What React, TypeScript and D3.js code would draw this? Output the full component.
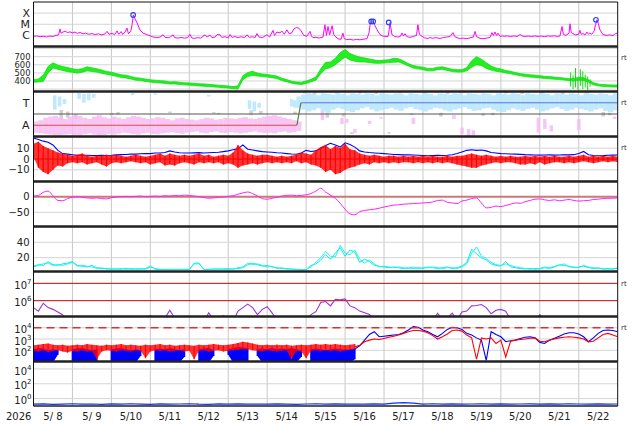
import * as d3 from 'd3';

// time axis: hours since 2026-05-08 00:00 UT, 15 days shown
const days = ['5/ 8', '5/ 9', '5/10', '5/11', '5/12', '5/13', '5/14', '5/15', '5/16', '5/17', '5/18', '5/19', '5/20', '5/21', '5/22'];

// X-ray flux, [hour, log10 W/m2]
const xray: [number, number][] = [
  [0,-6.1],[2,-6.05],[4,-6.12],[6,-6.08],[8,-6.14],[10,-6.06],[12,-6.1],[14,-6.0],[15.5,-5.95],[16.3,-5.43],[17,-5.8],[18.2,-5.7],[19.5,-5.62],[21,-5.75],[22.5,-5.68],[24,-5.78],[25.5,-5.7],[27,-5.82],[28.7,-5.74],[30.5,-5.86],[32,-5.8],[34,-5.9],[36,-5.84],[38,-5.93],[40,-5.86],[42,-5.95],[44,-5.88],[45.3,-5.64],[46.5,-5.9],[48.4,-5.82],[50,-5.93],[51.5,-5.6],[52.5,-5.9],[54,-5.66],[55,-5.92],[56.4,-5.7],[57.6,-5.34],[58.5,-5.85],[60,-5.6],[60.8,-5.0],[61.5,-4.16],[62.5,-4.5],[63.8,-4.87],[65.6,-5.5],[67.5,-5.8],[69.9,-5.93],[72,-6.05],[73.6,-6.14],[76,-6.2],[78,-6.15],[79.8,-5.94],[81,-6.18],[83,-6.22],[84.5,-6.12],[86,-5.95],[87,-6.2],[89,-6.25],[91,-6.18],[93,-6.25],[95,-6.2],[96.4,-5.9],[97.5,-6.22],[99,-6.28],[101,-6.2],[103,-6.25],[105.7,-5.95],[107,-6.15],[108.8,-5.98],[110,-6.2],[112,-6.15],[113.1,-5.92],[114.9,-5.95],[116,-6.18],[118,-6.12],[120,-6.22],[121.1,-5.92],[122.5,-6.18],[124,-6.1],[126,-6.2],[128,-6.12],[130,-6.2],[131.6,-5.95],[133,-6.18],[135,-6.12],[136.5,-6.2],[137.7,-5.84],[139,-6.15],[141,-6.2],[143.9,-5.95],[145.5,-6.15],[147.6,-5.55],[148.5,-6.0],[150,-5.7],[151.9,-5.78],[153,-5.6],[154.5,-5.9],[156.2,-5.5],[157.5,-5.85],[159,-5.8],[160.5,-5.4],[162,-5.3],[163.5,-5.35],[165,-5.6],[166.5,-6.0],[168.5,-6.08],[170.4,-5.64],[171.3,-6.05],[172.2,-6.2],[174,-6.18],[176,-6.24],[178.4,-6.15],[179.6,-5.04],[180.5,-6.0],[181.5,-5.2],[182.5,-5.95],[184,-5.13],[185,-5.9],[185.8,-6.08],[187.6,-6.3],[189.5,-6.36],[190.7,-5.8],[191.5,-6.3],[193,-6.38],[195,-6.35],[197,-6.42],[199,-6.36],[201.2,-6.4],[203,-6.35],[205.5,-6.3],[206.7,-5.8],[207.5,-5.0],[208.2,-4.75],[208.9,-4.76],[209.6,-4.9],[211.7,-5.49],[213.5,-5.93],[215.5,-6.08],[218.5,-6.1],[219.2,-5.5],[219.7,-4.84],[220.9,-5.93],[222.5,-6.1],[224.5,-6.15],[226,-6.1],[227.1,-5.78],[228,-6.05],[228.9,-5.85],[230,-6.1],[232,-6.18],[233.9,-6.1],[236,-6.0],[236.9,-5.04],[237.8,-5.9],[239.4,-6.08],[241,-6.22],[243,-6.28],[244.3,-6.2],[246,-6.26],[248,-6.2],[250.5,-6.28],[252.5,-6.2],[254.5,-6.15],[256.7,-6.1],[258.5,-5.75],[259.5,-6.1],[261,-6.22],[263,-6.28],[265,-6.25],[267,-6.3],[269,-6.22],[271,-6.15],[272.1,-5.64],[273,-6.1],[275.2,-6.28],[277,-6.3],[279,-6.25],[281.3,-6.2],[282.5,-5.75],[283.4,-6.0],[284.4,-5.7],[285.3,-6.0],[286.2,-5.8],[287.5,-6.1],[289,-6.05],[290.5,-6.08],[292,-6.05],[294,-6.1],[296,-6.05],[298,-6.1],[299.8,-5.93],[301,-6.05],[303,-6.1],[305,-6.06],[307,-6.1],[309,-6.05],[311,-6.1],[313,-6.06],[315,-6.12],[317,-6.05],[319,-6.08],[321,-6.04],[323,-6.1],[324.4,-6.05],[325.7,-5.2],[326.5,-5.9],[328.1,-6.0],[330,-5.8],[330.6,-4.96],[331.4,-5.75],[332.4,-5.84],[334,-5.95],[336,-5.9],[336.7,-5.55],[337.5,-5.9],[338.6,-5.84],[340,-5.95],[341,-5.7],[342,-5.9],[342.9,-5.78],[344,-5.9],[345.5,-5.6],[346.4,-5.0],[347.2,-4.6],[348,-4.9],[349,-5.49],[350.9,-5.93],[353.4,-6.0],[355,-5.95],[357.1,-6.02],[358.5,-5.85],[360,-5.78],
];
const flareMarks: [number, number][] = [[61.4,-4.16],[208.1,-4.75],[209.3,-4.75],[218.9,-4.84],[346.6,-4.6]];

// solar wind speed km/s, 3-hourly min / max
const speedLo = [385,388,395,500,560,545,530,515,508,498,508,525,518,510,495,482,472,458,444,438,424,410,405,395,386,380,376,370,362,364,356,352,348,344,339,336,331,327,322,317,312,305,300,415,455,470,462,455,450,440,430,405,392,372,362,356,370,390,410,490,550,565,600,650,695,660,645,635,635,628,620,618,622,628,632,635,612,585,560,550,540,525,525,540,545,530,516,510,510,525,570,600,590,555,535,520,512,500,490,476,465,456,448,444,438,432,426,422,418,412,405,400,410,405,385,352,340,332,328,325,325];
const speedHi = [415,425,470,580,625,595,580,565,552,542,552,575,562,550,535,518,508,492,476,472,456,440,435,425,414,410,404,400,388,392,384,378,376,372,365,364,359,353,348,343,338,331,340,465,505,520,498,485,480,470,460,435,418,398,388,384,400,420,450,550,630,635,680,750,790,740,715,695,685,672,660,652,658,662,680,675,648,615,590,580,570,555,555,570,575,560,544,540,540,565,650,700,670,625,585,560,548,530,520,504,491,484,476,472,466,458,454,448,442,436,428,432,445,440,415,380,362,356,352,350,350];
// short-lived excursions during 5/21, [hour, low, high]
const speedSpikes: [number, number, number][] = [[331,330,505],[332.5,300,470],[334,320,560],[335.5,290,430],[337,340,545],[338.5,300,520],[340,320,480],[341.5,290,455],[343,330,420]];

// IMF sector (phi, deg): dense 3-hourly clouds and sparse spots [hour, lo, hi]
const awayLo = [30,25,20,15,12,10,15,20,12,10,18,25,15,10,12,20,15,22,30,25,20,15,25,30,20,18,25,30,35,28,22,30,35,40,30,25,35,40,30,28,35,30,25,30,35,40,32,28,30,25,35,40,30,35,45];
const awayHi = [120,130,150,160,165,150,140,160,170,165,150,140,160,170,155,145,160,150,140,155,165,160,150,140,145,155,150,140,130,145,150,140,135,130,140,150,145,135,140,150,145,140,150,155,145,140,150,160,165,170,160,150,140,130,120];
const towardStart = 162;
const towardLo = [230,215,200,210,225,200,190,215,230,220,205,195,210,225,235,215,200,210,220,230,215,205,225,235,220,210,200,215,230,225,210,200,215,225,235,220,205,210,225,230,215,200,195,210,225,215,205,220,230,215,200,210,225,235,220,205,215,230,220,210,200,215,225,205,195,210];
const towardHi = [320,335,345,340,330,345,340,335,345,340,330,345,340,335,345,340,330,345,340,335,345,340,330,345,340,335,345,340,330,345,340,335,345,340,330,345,340,335,345,340,330,345,340,335,345,340,330,345,340,335,345,340,330,345,340,335,345,340,330,345,340,335,345,340,330,345];
const towardSpots: [number, number, number][] = [[12,215,330],[15,240,320],[18,260,300],[27,300,348],[30,270,340],[33,290,345],[36,310,340],[60,330,348],[74,335,345],[107,320,332],[132,220,290],[135,200,280],[138,230,270],[158,240,300],[160,230,290]];
const awaySpots: [number, number, number][] = [[177,132,212],[189,100,150],[192,110,140],[197,30,60],[206,100,125],[213,145,155],[233,100,150],[258,140,170],[263,20,70],[267,0,60],[270,10,50],[310,30,150],[314,60,140],[318,40,90],[335,50,140],[357,140,160]];
const otherSpots: [number, number, number][] = [[16,130,212],[20,150,200],[25,140,180],[47,170,190],[51,175,195],[83,190,200],[110,185,195],[113,180,190],[133,170,210],[139,180,205],[160,180,200],[166,345,356],[172,340,356],[180,150,190],[186,345,356],[190,160,185],[195,20,35],[200,345,356],[210,340,356],[218,25,35],[225,345,356],[232,170,185],[240,345,356],[250,160,190],[254,340,356],[262,345,356],[276,165,185],[282,170,190],[290,345,356],[300,340,356],[312,345,356],[325,340,356],[340,345,356],[350,160,195],[354,170,190]];
const sectorAway: [number, number][] = [[0,90],[162.3,90]];
const sectorTurn: [number, number][] = [[162.3,90],[164.8,270]];
const sectorToward: [number, number][] = [[164.8,270],[360,270]];

// IMF Bt and Bz (nT), 3-hourly
const bt = [19.5,18,16.5,15.5,13,8,5,4.5,4,3.5,3.5,3.5,3.3,3.2,3.5,3.3,3.5,3.8,4,4.2,4.5,4.5,4.8,5,5,5.5,5.5,6,7.5,6.5,5.8,5.6,5.5,5.7,5.9,5.6,5.8,6,6.2,6.8,7.5,8.5,9.5,13,9,8.3,7.5,6.8,6.5,6.2,5.8,5.5,5,4.6,4.4,5.5,8,7,7.5,10,12.5,14.5,13,11,15,13.5,11,7.5,6.5,6,5.6,5.3,5,4.6,4.2,4,3.8,3.8,3.7,3.5,3.2,3,3.2,3.5,3.3,3.5,4,5,6.5,8,8.5,8,8.3,7.5,6,5.5,5,4.8,4.6,4.5,4.3,4,3.8,3.7,3.6,3.7,3.8,3.6,3.7,3.8,3.8,4,5,7,4,3.3,3,3.1,3.4,3.6,3.7];
const bzLo = [2,-8,-12,-14,-10,-6,-7,-4,-3,-4,-3,-5,-4,-3,-5,-7,-4,-3,-4,-3,-2,-3,-4,-3,-5,-4,-3,-6,-5,-6,-4,-3,-4,-5,-3,-4,-3,-4,-3,-5,-4,-5,-8,-6,-5,-4,-5,-4,-3,-4,-3,-4,-3,-4,-2,-4,-3,-5,-6,-8,-12,-10,-14,-13,-10,-8,-7,-5,-4,-5,-3,-4,-3,-4,-3,-4,-3,-3,-4,-3,-4,-3,-4,-3,-4,-3,-4,-5,-6,-7,-8,-8,-6,-5,-4,-3,-4,-3,-3,-4,-5,-5,-4,-5,-3,-5,-4,-3,-3,-4,-3,-4,-3,-2,-3,-4,-3,-2,-3,-2,-3];
const bzHi = [14,16,12,10,8,6,5,4,3,4,5,3,2,3,3,4,3,4,3,2,3,4,3,2,3,4,5,3,5,4,3,4,3,4,5,3,4,2,3,4,3,6,13,8,5,4,3,4,4,3,2,3,2,3,4,6,5,4,8,11,13,9,12,10,14,9,8,5,4,3,4,3,2,3,3,2,3,2,3,2,3,2,3,2,2,3,2,3,3,4,5,4,3,4,3,2,3,2,3,2,2,3,2,3,2,3,2,3,2,2,3,2,3,4,2,3,2,3,2,3,2];

// Dst (nT), 3-hourly
const dst = [2,4,14,18,3,-12,-13,-6,-2,0,-2,-4,-5,-4,-6,-7,-3,-1,0,1,0,1,2,0,1,2,1,3,2,4,3,5,4,2,0,-3,-5,-4,-2,-1,1,3,8,12,15,10,2,-6,-8,-5,-2,2,4,5,3,4,6,10,18,27,15,5,-5,-21,-40,-55,-58,-48,-44,-42,-40,-37,-33,-30,-27,-26,-24,-23,-22,-21,-20,-19,-17,-12,-11,-18,-20,-22,-14,-11,-6,-4,-20,-36,-34,-30,-32,-28,-24,-20,-21,-16,-12,-8,-7,-10,-12,-10,-13,-11,-9,-12,-14,-13,-12,-9,-8,-6,-5,-5,-4];

// two cyan traces, 3-hourly
const cyanA = [9,11,10,15,11,10,12,13,15,10,9,8,10,7,6,6,5,5.5,5,6,5,5.5,5,6,9,5,4.5,5,4.5,4.5,5,4.5,4.5,13,13,4.5,5,5,5.5,5,5,5.5,6,7,11,13,11,9,10,8,7,6,6,5,4.5,4,4.5,10,12,17,24,18,26,33,22,30,27,14,18,15,10,9,8,7,8,7,6,7,6,7,6,8,7,6,7,8,6,7,9,14,31,25,20,17,12,10,9,15,8,7,6,5.5,6,5,5.5,7,6,8,11,10,9,7,8,9,7,6,7,5,6,5,7];
const cyanB = [8,10,12,13,10,11,10,12,14,9,10,9,8,6,7,5,6,5,6,5,6,5,6,5,8,6,5,4.5,5,5,4.5,5,5,12,12,5,4.5,5.5,5,5.5,6,5,7,8,13,11,12,10,8,9,6,7,5,5.5,5,4.5,5,8,14,20,28,22,21,36,26,24,30,18,13,17,12,8,9,8,7,8,7,6,8,6,7,7,8,7,6,7,7,6,8,12,26,34,22,19,14,11,10,12,10,8,7,6,5,6,6,8,7,9,10,12,8,8,7,10,8,7,6,6,5,6,6];

// electron flux log10, 3-hourly
const electron = [5.6,5.4,5.85,5.6,5.5,5.35,5.18,4.9,4.8,4.8,4.8,4.8,4.8,4.8,4.8,4.8,4.8,4.8,4.8,4.8,4.8,4.8,4.8,4.8,5.15,4.9,4.8,5.0,5.45,5.0,4.8,4.8,4.8,4.8,4.8,4.8,5.3,4.9,4.8,5.15,4.9,4.8,5.4,5.6,5.8,5.6,5.2,5.5,5.65,5.3,4.9,4.8,4.8,4.8,4.9,5.1,4.9,5.2,5.37,5.9,5.95,5.7,6.08,6.05,6.1,5.7,5.6,5.4,5.3,5.2,4.9,4.8,4.8,4.8,4.8,4.8,4.8,4.8,4.8,4.8,4.8,4.8,4.8,5.28,4.9,5.0,5.28,4.9,5.35,5.4,5.7,5.72,5.78,5.6,5.25,5.45,5.5,5.4,4.9,4.8,4.8,4.8,4.8,4.8,5.2,4.9,4.8,4.8,4.8,4.8,4.8,4.8,4.8,4.8,4.8,4.8,4.8,4.8,4.8,4.8,4.8];

// proton channels log10: noisy quiet-time ranges to h198, then smooth 3-hourly
const quietRedLo = [1.95,1.9,2.0,1.85,1.95,2.0,1.9,1.8,1.95,1.9,2.0,1.9,1.95,1.2,1.9,2.0,1.95,1.9,2.0,1.95,1.9,2.0,1.95,1.3,1.9,2.0,1.95,2.0,1.9,1.95,2.0,1.9,1.95,1.2,1.95,2.0,1.9,1.95,2.0,1.9,1.95,2.0,2.05,2.1,2.1,2.0,1.95,1.9,2.0,1.95,1.9,1.95,2.0,1.2,1.95,1.9,1.3,1.95,2.0,1.95,2.0,1.95,2.0,1.9,2.0,2.05,2.1];
const quietRedHi = [2.45,2.5,2.55,2.6,2.5,2.45,2.5,2.4,2.45,2.5,2.45,2.55,2.5,2.45,2.4,2.5,2.45,2.5,2.55,2.45,2.5,2.45,2.4,2.5,2.45,2.5,2.55,2.45,2.5,2.4,2.45,2.5,2.45,2.4,2.5,2.45,2.5,2.55,2.5,2.45,2.5,2.55,2.65,2.75,2.7,2.6,2.5,2.45,2.5,2.45,2.5,2.45,2.5,2.4,2.45,2.5,2.45,2.5,2.55,2.5,2.55,2.5,2.55,2.5,2.45,2.5,2.55];
const quietBlueLo = [0.9,0.9,0.9,0.9,0.9,1.6,null,null,0.9,0.9,0.9,0.9,0.9,0.9,null,null,0.9,0.9,0.9,0.9,0.9,0.9,1.5,null,null,0.9,0.9,0.9,0.9,0.9,0.9,1.4,null,null,0.9,0.9,0.9,1.5,null,null,1.6,0.9,0.9,0.9,0.9,null,1.5,0.9,0.9,0.9,0.9,0.9,0.9,0.9,0.9,1.4,null,0.9,0.9,0.9,0.9,0.9,0.9,0.9,0.9,0.9,1.2];
const quietBlueHi = [2.1,2.2,2.15,2.0,2.1,2.0,null,null,2.1,2.15,2.2,2.1,2.0,2.1,null,null,2.1,2.15,2.2,2.1,2.0,2.1,2.0,null,null,2.1,2.15,2.1,2.2,2.1,2.0,2.1,null,null,2.1,2.15,2.2,2.0,null,null,2.1,2.2,2.3,2.25,2.2,null,2.1,2.15,2.1,2.2,2.1,2.15,2.1,2.2,2.1,2.0,null,2.1,2.15,2.1,2.0,2.1,2.15,2.1,2.05,2.1,2.15];
const activeStart = 198;
const activeRed = [2.3,2.45,2.75,2.9,3.0,2.95,3.05,3.15,3.25,3.35,3.5,3.65,3.75,3.75,3.7,3.55,3.3,3.0,3.2,3.45,3.75,3.8,3.7,3.35,3.1,1.2,3.1,3.0,3.1,2.6,2.9,1.4,2.8,2.9,2.95,3.0,3.06,3.1,2.8,2.75,2.9,3.0,3.1,3.15,3.2,3.15,3.1,3.0,2.75,2.8,3.1,3.4,3.5,3.35,3.2];
const activeBlue = [2.1,2.4,2.9,3.4,3.65,3.2,3.25,3.3,3.35,3.4,3.55,3.8,4.1,4.05,3.8,3.65,3.4,3.2,3.5,3.85,4.04,4.0,3.85,3.5,3.35,3.1,2.9,1.1,3.65,3.4,3.2,2.76,2.85,2.9,3.05,3.15,3.2,3.1,2.7,2.6,2.9,3.06,3.25,3.45,3.56,3.55,3.45,3.2,2.76,3.1,3.5,3.75,3.8,3.75,3.65];

// bottom channel log10, 6-hourly
const lowFlux = [-0.75,-0.72,-0.78,-0.74,-0.7,-0.76,-0.73,-0.77,-0.72,-0.75,-0.7,-0.74,-0.78,-0.72,-0.76,-0.73,-0.7,-0.75,-0.77,-0.72,-0.74,-0.71,-0.76,-0.73,-0.75,-0.72,-0.74,-0.77,-0.73,-0.7,-0.74,-0.72,-0.76,-0.73,-0.75,-0.72,-0.74,-0.6,-0.55,-0.62,-0.74,-0.7,-0.76,-0.72,-0.75,-0.73,-0.7,-0.74,-0.72,-0.76,-0.73,-0.71,-0.75,-0.72,-0.74,-0.7,-0.73,-0.76,-0.72,-0.74,-0.73];

const W = 634;
const H = 424;
const L = 33.5;
const R = 617.7;
const edges = [2, 46.5, 91.5, 136.5, 181.5, 226.5, 271.5, 316.5, 361.5, 406];
const FONT = 'DejaVu Sans';

const x = d3.scaleLinear().domain([0, 360]).range([L, R]);
const yX = d3.scaleLinear().domain([-7, -3]).range([edges[1], edges[0]]);
const ySpd = d3.scaleLinear().domain([270, 826]).range([edges[2], edges[1]]);
const yPhi = d3.scaleLinear().domain([0, 360]).range([edges[3], edges[2]]);
const yB = d3.scaleLinear().domain([-20.8, 20.8]).range([edges[4], edges[3]]);
const yDst = d3.scaleLinear().domain([-95.5, 48.7]).range([edges[5], edges[4]]);
const yCy = d3.scaleLinear().domain([2.1, 60.5]).range([edges[6], edges[5]]);
const yE = d3.scaleLinear().domain([5.09, 7.68]).range([edges[7], edges[6]]);
const yP = d3.scaleLinear().domain([1, 5]).range([edges[8], edges[7]]);
const yLow = d3.scaleLinear().domain([-1, 5]).range([edges[9], edges[8]]);

type Pt = [number, number | null];
const series = (vals: (number | null)[], start = 0, step = 3): Pt[] => vals.map((v, i) => [start + i * step, v]);
const bins = (lo: (number | null)[], hi: (number | null)[], start = 0, step = 3) =>
  lo.map((v, i) => ({ h: start + i * step, lo: v, hi: hi[i] }));

const lineOf = (y: any, curve: any = d3.curveLinear) =>
  d3.line<Pt>().defined((d) => d[1] != null).x((d) => x(d[0])).y((d) => y(d[1] as number)).curve(curve);
const bandOf = (y: any, curve: any = d3.curveLinear) =>
  d3.area<any>().defined((d) => d.lo != null && d.hi != null).x((d) => x(d.h)).y0((d) => y(d.lo)).y1((d) => y(d.hi)).curve(curve);

function Clip({ i }: { i: number }) {
  return (
    <clipPath id={`clip${i}`}>
      <rect x={L} y={edges[i]} width={R - L} height={edges[i + 1] - edges[i]} />
    </clipPath>
  );
}

function HGrid({ y, vals, color = '#d4d4d4', width = 1, dash }: any) {
  return (
    <g>
      {vals.map((v: number) => (
        <line key={v} x1={L} x2={R} y1={y(v)} y2={y(v)} stroke={color} strokeWidth={width} strokeDasharray={dash} />
      ))}
    </g>
  );
}

// vertical min-max strokes, one per bin
function Ticks({ data, y, color, width = 1 }: any) {
  return (
    <g stroke={color} strokeWidth={width}>
      {data.filter((d: any) => d.lo != null && d.hi != null).map((d: any, i: number) => (
        <line key={i} x1={x(d.h)} x2={x(d.h)} y1={y(d.lo)} y2={y(d.hi)} />
      ))}
    </g>
  );
}

function Txt({ x: tx, y: ty, size = 10, children, anchor = 'end' }: any) {
  return (
    <text x={tx} y={ty} fontSize={size} fontFamily={FONT} fill="#222" textAnchor={anchor}>
      {children}
    </text>
  );
}

function Pow({ y: gy, e }: { y: number; e: string }) {
  return (
    <text x={31.5} y={gy + 5.6} fontSize={10} fontFamily={FONT} fill="#222" textAnchor="end">
      10<tspan dy={-5} fontSize={7}>{e}</tspan>
    </text>
  );
}

function Spots({ data, color, w = 2 }: any) {
  return (
    <g fill={color}>
      {data.map((d: any, i: number) => (
        <rect key={i} x={x(d[0])} width={x(d[0] + w) - x(d[0]) + 0.3} y={yPhi(d[2])} height={Math.max(1.5, yPhi(d[1]) - yPhi(d[2]))} />
      ))}
    </g>
  );
}

export default function App() {
  const dayLines = d3.range(1, 15).map((d) => x(d * 24));
  const awayBins = bins(awayLo, awayHi).map((d) => [d.h, d.lo, d.hi]);
  const towardBins = bins(towardLo, towardHi, towardStart).map((d) => [d.h, d.lo, d.hi]);
  const bz = bins(bzLo, bzHi);
  const quietRed = bins(quietRedLo, quietRedHi);
  const quietBlue = bins(quietBlueLo, quietBlueHi);
  return (
    <svg width={W} height={H} style={{ position: 'absolute', left: 0, top: 0, background: '#fff' }}>
      <defs>
        {d3.range(9).map((i) => <Clip key={i} i={i} />)}
      </defs>
      <rect width={W} height={H} fill="#fff" />

      {/* grids */}
      {dayLines.map((px, i) => (
        <line key={i} x1={px} x2={px} y1={edges[0]} y2={edges[9]} stroke="#c8c8c8" strokeWidth={1} />
      ))}
      <HGrid y={yX} vals={[-4, -5, -6]} />
      <HGrid y={ySpd} vals={[300, 400, 500, 600, 700, 800]} />
      <HGrid y={yB} vals={[-20, -10, 10, 20]} />
      <HGrid y={yDst} vals={[-50]} />
      <HGrid y={yCy} vals={[20, 40, 60]} />
      <HGrid y={yP} vals={[2, 3, 4]} />
      <HGrid y={yLow} vals={[0, 2, 4]} />

      {/* 1: X-ray */}
      <g clipPath="url(#clip0)">
        <path d={lineOf(yX)(xray) as string} fill="none" stroke="#ff00ff" strokeWidth={1} />
        {flareMarks.map((d, i) => (
          <circle key={i} cx={x(d[0])} cy={yX(d[1])} r={2.3} fill="none" stroke="#2040ff" strokeWidth={1.1} />
        ))}
      </g>

      {/* 2: speed */}
      <g clipPath="url(#clip1)">
        <path d={bandOf(ySpd)(bins(speedLo, speedHi)) as string} fill="#22ee22" stroke="#11dd11" strokeWidth={0.8} />
        <g stroke="#11dd11" strokeWidth={1}>
          {speedSpikes.map((d, i) => (
            <line key={i} x1={x(d[0])} x2={x(d[0])} y1={ySpd(d[1])} y2={ySpd(d[2])} />
          ))}
        </g>
      </g>

      {/* 3: sector */}
      <g clipPath="url(#clip2)">
        <Spots data={otherSpots} color="#d2d2d2" />
        <g opacity={0.85}>
          <Spots data={awayBins} color="#f7bdf3" w={3} />
          <Spots data={awaySpots} color="#f7bdf3" />
          <Spots data={towardBins} color="#b6e6fb" w={3} />
          <Spots data={towardSpots} color="#b6e6fb" />
        </g>
        <line x1={L} x2={R} y1={yPhi(180)} y2={yPhi(180)} stroke="#555" strokeWidth={1} />
        <path d={lineOf(yPhi)(sectorAway) as string} stroke="#e04848" strokeWidth={1.2} fill="none" />
        <path d={lineOf(yPhi)(sectorTurn) as string} stroke="#4a7a4a" strokeWidth={1.2} fill="none" />
        <path d={lineOf(yPhi)(sectorToward) as string} stroke="#5a72e6" strokeWidth={1.2} fill="none" />
      </g>

      {/* 4: Bt / Bz */}
      <g clipPath="url(#clip3)">
        <line x1={L} x2={R} y1={yB(0)} y2={yB(0)} stroke="#a00000" strokeWidth={1} />
        <path d={lineOf(yB)(series(bt)) as string} fill="none" stroke="#0000ff" strokeWidth={1.1} />
        <path d={bandOf(yB)(bz) as string} fill="#ff0000" opacity={0.8} />
        <Ticks data={bz} y={yB} color="#ff0000" width={1.2} />
      </g>

      {/* 5: Dst */}
      <g clipPath="url(#clip4)">
        <line x1={L} x2={R} y1={yDst(0)} y2={yDst(0)} stroke="#cc7878" strokeWidth={2} />
        <path d={lineOf(yDst, d3.curveMonotoneX)(series(dst)) as string} fill="none" stroke="#ff20ff" strokeWidth={1} />
      </g>

      {/* 6: cyan */}
      <g clipPath="url(#clip5)">
        <path d={lineOf(yCy)(series(cyanA)) as string} fill="none" stroke="#00eeee" strokeWidth={1} />
        <path d={lineOf(yCy)(series(cyanB)) as string} fill="none" stroke="#22f0f0" strokeWidth={1} />
      </g>

      {/* 7: electrons */}
      <g clipPath="url(#clip6)">
        <HGrid y={yE} vals={[6, 7]} color="#c00000" />
        <path d={lineOf(yE)(series(electron)) as string} fill="none" stroke="#a030d8" strokeWidth={1.1} />
      </g>

      {/* 8: protons */}
      <g clipPath="url(#clip7)">
        <path d={bandOf(yP)(quietBlue) as string} fill="#0000ff" />
        <Ticks data={quietBlue} y={yP} color="#0000ff" width={1.6} />
        <path d={bandOf(yP)(quietRed) as string} fill="#ff0000" opacity={0.8} />
        <Ticks data={quietRed} y={yP} color="#ff0000" width={1.1} />
        <path d={lineOf(yP)(series(activeBlue, activeStart)) as string} fill="none" stroke="#0000ff" strokeWidth={1.1} />
        <path d={lineOf(yP)(series(activeRed, activeStart)) as string} fill="none" stroke="#ff0000" strokeWidth={1.1} />
        <HGrid y={yP} vals={[4]} color="#e03030" width={1.3} dash="8,5" />
      </g>

      {/* 9: low channel */}
      <g clipPath="url(#clip8)">
        <path d={lineOf(yLow)(series(lowFlux, 0, 6)) as string} fill="none" stroke="#1030ff" strokeWidth={1.2} />
      </g>

      {/* frame */}
      <line x1={L} x2={R} y1={edges[0]} y2={edges[0]} stroke="#111" strokeWidth={1} />
      {edges.slice(1, 9).map((e, i) => (
        <line key={i} x1={L} x2={R} y1={e} y2={e} stroke="#222" strokeWidth={2.6} />
      ))}
      <line x1={L} x2={R} y1={edges[9]} y2={edges[9]} stroke="#222" strokeWidth={1.6} />
      <line x1={L} x2={L} y1={edges[0]} y2={edges[9]} stroke="#111" strokeWidth={1} />
      <line x1={R} x2={R} y1={edges[0]} y2={edges[9]} stroke="#111" strokeWidth={1} />

      {/* left labels */}
      <Txt x={30} y={yX(-4) + 4} size={11}>X</Txt>
      <Txt x={30} y={yX(-5) + 4} size={11}>M</Txt>
      <Txt x={30} y={yX(-6) + 4} size={11}>C</Txt>
      {[700, 600, 500, 400].map((v) => (
        <Txt key={v} x={30.5} y={ySpd(v) + 3} size={8.4}>{v}</Txt>
      ))}
      <Txt x={29.5} y={yPhi(270) + 4} size={11}>T</Txt>
      <Txt x={29.5} y={yPhi(90) + 4} size={11}>A</Txt>
      {[10, 0, -10].map((v) => (
        <Txt key={v} x={29.5} y={yB(v) + 3.6}>{v === -10 ? '\u221210' : v}</Txt>
      ))}
      <Txt x={29.5} y={yDst(0) + 3.6}>0</Txt>
      <Txt x={29.5} y={yDst(-50) + 3.6}>{'\u221250'}</Txt>
      <Txt x={29.5} y={yCy(40) + 3.6}>40</Txt>
      <Txt x={29.5} y={yCy(20) + 3.6}>20</Txt>
      <Pow y={yE(7)} e="7" />
      <Pow y={yE(6)} e="6" />
      <Pow y={yP(4)} e="4" />
      <Pow y={yP(3)} e="3" />
      <Pow y={yP(2)} e="2" />
      <Pow y={yLow(4)} e="4" />
      <Pow y={yLow(2)} e="2" />
      <Pow y={yLow(0)} e="0" />

      {/* right tags */}
      {[57, 102, 147, 283, 327].map((ty) => (
        <text key={ty} x={621} y={ty + 2.5} fontSize={7} fontFamily={FONT} fill="#333">rt</text>
      ))}

      {/* time axis */}
      <Txt x={18.7} y={420} anchor="middle">2026</Txt>
      {days.map((d, i) => (
        <text key={d} x={x(i * 24 + 12)} y={420} fontSize={10} fontFamily={FONT} fill="#222" textAnchor="middle" style={{ whiteSpace: 'pre' }}>
          {d}
        </text>
      ))}
    </svg>
  );
}
